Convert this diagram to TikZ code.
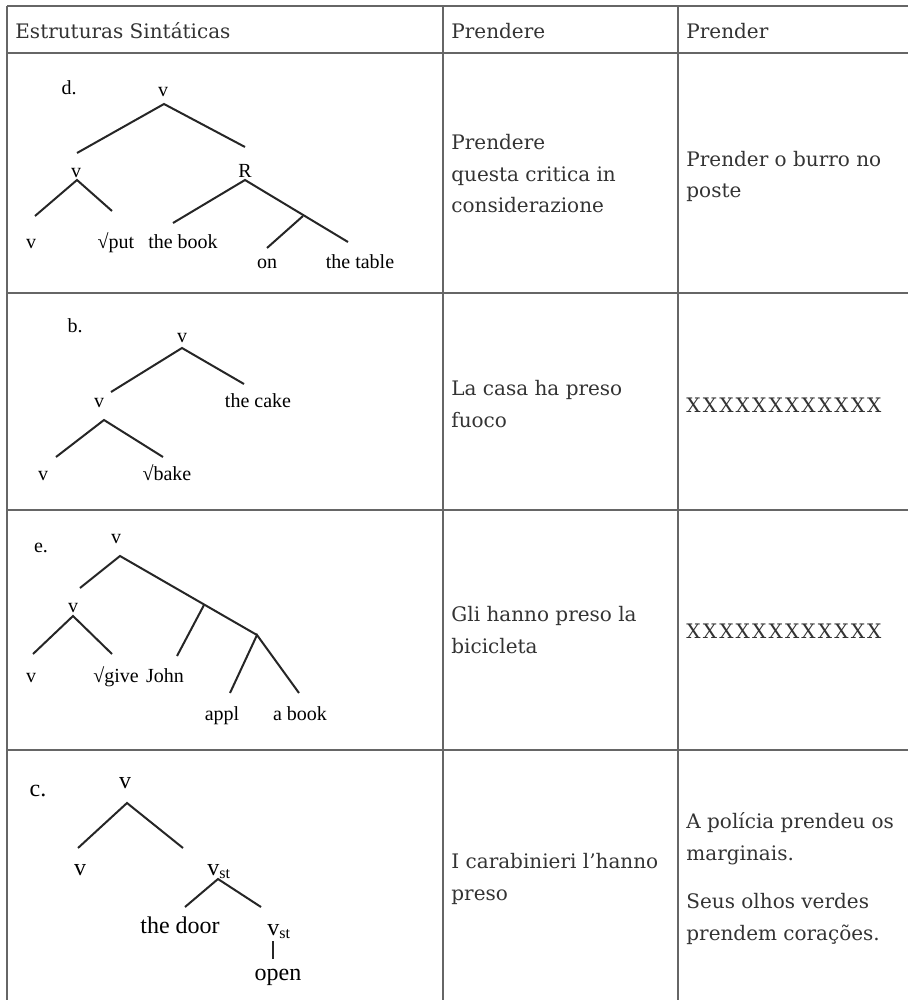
\documentclass[tikz,border=0pt]{standalone}
\usepackage{fontspec}
\newfontfamily\cellfont{DejaVu Serif}
\newfontfamily\treefont{Liberation Serif}

\begin{document}
\begin{tikzpicture}[
	x=0.5pt, y=-0.5pt,
	rule/.style={draw=black!60, line width=1pt},
	cell/.style={anchor=base west, inner sep=0pt, align=left, text=black!80,
	font=\cellfont\fontsize{10}{15.75}\selectfont},
	lab/.style={anchor=base, inner sep=0pt, font=\treefont\fontsize{10}{12}\selectfont},
	bigl/.style={lab, font=\treefont\fontsize{12}{14}\selectfont},
	branch/.style={draw=black!85, line width=1pt},
	]
	\useasboundingbox (0,0) rectangle (908,1000);

	% table rules
	\draw[rule] (7,6) -- (908,6);
	\foreach \y in {53,293,510,750}
		\draw[rule] (7,\y) -- (908,\y);
	\foreach \x in {7,443,678}
		\draw[rule] (\x,6) -- (\x,1000);

	% header (cells anchored on the baseline of their last line)
	\node[cell] (h1) at (15,39) {Estruturas Sintáticas};
	\node[cell] (h2) at (451,39) {Prendere};
	\node[cell] (h3) at (686,39) {Prender};

	% row 1 : tree d
	\node[lab] (dlab) at (69,95) {d.};
	\node[lab] (dv0) at (163,97) {v};
	\node[lab] (dv1) at (76,178) {v};
	\node[lab] (dR) at (245,178) {R};
	\node[lab] (dv2) at (31,249) {v};
	\node[lab] (dput) at (116,249) {√put};
	\node[lab] (dbook) at (183,249) {the book};
	\node[lab] (don) at (267,268) {on};
	\node[lab] (dtable) at (360,268) {the table};
	\coordinate (d0) at (164,104);
	\coordinate (d1) at (77,153);
	\coordinate (d2) at (245,147);
	\coordinate (d3) at (77,180);
	\coordinate (d4) at (35,216);
	\coordinate (d5) at (112,211);
	\coordinate (d6) at (245,180);
	\coordinate (d7) at (173,223);
	\coordinate (d8) at (303,216);
	\coordinate (d9) at (348,242);
	\coordinate (d10) at (267,248);
	\draw[branch] (d1) -- (d0) -- (d2);
	\draw[branch] (d4) -- (d3) -- (d5);
	\draw[branch] (d7) -- (d6) -- (d9);
	\draw[branch] (d8) -- (d10);
	\node[cell] (c12) at (451,213) {Prendere\\questa critica in\\considerazione};
	\node[cell] (c13) at (686,198) {Prender o burro no\\poste};

	% row 2 : tree b
	\node[lab] (blab) at (75,332) {b.};
	\node[lab] (bv0) at (182,342) {v};
	\node[lab] (bv1) at (99,407) {v};
	\node[lab] (bcake) at (258,407) {the cake};
	\node[lab] (bv2) at (43,480) {v};
	\node[lab] (bbake) at (167,480) {√bake};
	\coordinate (b0) at (182,348);
	\coordinate (b1) at (111,392);
	\coordinate (b2) at (244,384);
	\coordinate (b3) at (104,420);
	\coordinate (b4) at (56,457);
	\coordinate (b5) at (163,457);
	\draw[branch] (b1) -- (b0) -- (b2);
	\draw[branch] (b4) -- (b3) -- (b5);
	\node[cell] (c22) at (451,427) {La casa ha preso\\fuoco};
	\node[cell] (c23) at (686,412) {\addfontfeature{LetterSpace=11}XXXXXXXXXXXX};

	% row 3 : tree e
	\node[lab] (elab) at (41,552) {e.};
	\node[lab] (ev0) at (116,543) {v};
	\node[lab] (ev1) at (73,612) {v};
	\node[lab] (ev2) at (31,682) {v};
	\node[lab] (egive) at (116,682) {√give};
	\node[lab] (ejohn) at (165,682) {John};
	\node[lab] (eappl) at (222,720) {appl};
	\node[lab] (ebook) at (300,720) {a book};
	\coordinate (e0) at (120,556);
	\coordinate (e1) at (80,588);
	\coordinate (e2) at (204,605);
	\coordinate (e3) at (257,635);
	\coordinate (e4) at (177,656);
	\coordinate (e5) at (73,616);
	\coordinate (e6) at (33,654);
	\coordinate (e7) at (112,654);
	\coordinate (e8) at (230,693);
	\coordinate (e9) at (299,693);
	\draw[branch] (e1) -- (e0) -- (e3);
	\draw[branch] (e2) -- (e4);
	\draw[branch] (e6) -- (e5) -- (e7);
	\draw[branch] (e8) -- (e3) -- (e9);
	\node[cell] (c32) at (451,653) {Gli hanno preso la\\bicicleta};
	\node[cell] (c33) at (686,638) {\addfontfeature{LetterSpace=11}XXXXXXXXXXXX};

	% row 4 : tree c
	\node[bigl] (clab) at (38,796) {c.};
	\node[bigl] (cv0) at (125,788) {v};
	\node[bigl] (cv1) at (80,875) {v};
	\node[bigl, anchor=base west] (cst1) at (207,875) {v\textsubscript{st}};
	\node[bigl] (cdoor) at (180,933) {the door};
	\node[bigl, anchor=base west] (cst2) at (267,935) {v\textsubscript{st}};
	\node[bigl] (copen) at (278,980) {open};
	\coordinate (k0) at (127,803);
	\coordinate (k1) at (78,848);
	\coordinate (k2) at (183,848);
	\coordinate (k3) at (218,879);
	\coordinate (k4) at (185,907);
	\coordinate (k5) at (261,907);
	\coordinate (k6) at (273,941);
	\coordinate (k7) at (273,959);
	\draw[branch] (k1) -- (k0) -- (k2);
	\draw[branch] (k4) -- (k3) -- (k5);
	\draw[branch] (k6) -- (k7);
	\node[cell] (c42) at (451,900) {I carabinieri l’hanno\\preso};
	\node[cell] (c43a) at (686,860) {A polícia prendeu os\\marginais.};
	\node[cell] (c43b) at (686,940) {Seus olhos verdes\\prendem corações.};
\end{tikzpicture}
\end{document}
